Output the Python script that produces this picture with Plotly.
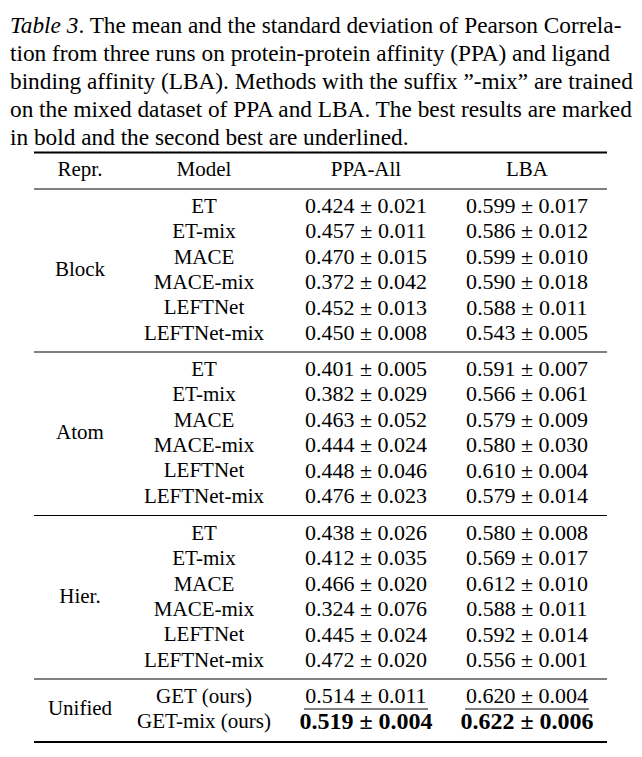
import plotly.graph_objects as go

# ---------------- data ----------------
caption_lines = [
    "<i>Table 3</i>. The mean and the standard deviation of Pearson Correla-",
    "tion from three runs on protein-protein affinity (PPA) and ligand",
    "binding affinity (LBA). Methods with the suffix \u201d-mix\u201d are trained",
    "on the mixed dataset of PPA and LBA. The best results are marked",
    "in bold and the second best are underlined.",
]
headers = ["Repr.", "Model", "PPA-All", "LBA"]
reprs = ["Block", "Atom", "Hier."]
models = ["ET", "ET-mix", "MACE", "MACE-mix", "LEFTNet", "LEFTNet-mix"]

block_ppa_mean = [0.424, 0.457, 0.470, 0.372, 0.452, 0.450]
block_ppa_std = [0.021, 0.011, 0.015, 0.042, 0.013, 0.008]
block_lba_mean = [0.599, 0.586, 0.599, 0.590, 0.588, 0.543]
block_lba_std = [0.017, 0.012, 0.010, 0.018, 0.011, 0.005]

atom_ppa_mean = [0.401, 0.382, 0.463, 0.444, 0.448, 0.476]
atom_ppa_std = [0.005, 0.029, 0.052, 0.024, 0.046, 0.023]
atom_lba_mean = [0.591, 0.566, 0.579, 0.580, 0.610, 0.579]
atom_lba_std = [0.007, 0.061, 0.009, 0.030, 0.004, 0.014]

hier_ppa_mean = [0.438, 0.412, 0.466, 0.324, 0.445, 0.472]
hier_ppa_std = [0.026, 0.035, 0.020, 0.076, 0.024, 0.020]
hier_lba_mean = [0.580, 0.569, 0.612, 0.588, 0.592, 0.556]
hier_lba_std = [0.008, 0.017, 0.010, 0.011, 0.014, 0.001]

unified_repr = "Unified"
unified_models = ["GET (ours)", "GET-mix (ours)"]
unified_ppa_mean = [0.514, 0.519]
unified_ppa_std = [0.011, 0.004]
unified_lba_mean = [0.620, 0.622]
unified_lba_std = [0.004, 0.006]

# ---------------- layout constants ----------------
W, H = 642, 757
FONT = "Liberation Serif, Times New Roman, serif"
X_REPR, X_MODEL, X_PPA, X_LBA = 80, 204, 366, 527
RULE_X0, RULE_X1 = 34, 607
CAP_X, CAP_Y0, CAP_DY = 8, 27, 28
HEADER_Y = 170
ROW_DY = 25.4
GROUP_STARTS = [207, 370, 534]
UNIFIED_START = 697
TOP_RULE, HEAD_RULE, BOTTOM_RULE = 152.5, 189, 742
GROUP_RULES = [352, 515.5, 679]
YOFF = 0.5   # text box center vs glyph center
CAP_YOFF = -2

groups = [
    (block_ppa_mean, block_ppa_std, block_lba_mean, block_lba_std),
    (atom_ppa_mean, atom_ppa_std, atom_lba_mean, atom_lba_std),
    (hier_ppa_mean, hier_ppa_std, hier_lba_mean, hier_lba_std),
]

all_ppa = [v for g in groups for v in g[0]] + unified_ppa_mean
all_lba = [v for g in groups for v in g[2]] + unified_lba_mean
ppa_sorted = sorted(set(all_ppa), reverse=True)
lba_sorted = sorted(set(all_lba), reverse=True)

fig = go.Figure()

xs, ys, texts, sizes, families = [], [], [], [], []
underlines = []


def add(x, y, t, size=21):
    xs.append(x)
    ys.append(y + YOFF)
    texts.append(t)
    sizes.append(size)
    families.append(FONT)


def num_cell(x, y, m, s, ranked):
    t = f"{m:.3f} \u00b1 {s:.3f}"
    if m == ranked[0]:
        add(x, y, f"<b>{t}</b>", 24)
    else:
        add(x, y, t, 22)
        if m == ranked[1]:
            underlines.append((x, y))


for h, x in zip(headers, [X_REPR, X_MODEL, X_PPA, X_LBA]):
    add(x, HEADER_Y, h)

for gi, (pm, ps, lm, ls) in enumerate(groups):
    y0 = GROUP_STARTS[gi]
    add(X_REPR, y0 + ROW_DY * (len(models) - 1) / 2, reprs[gi])
    for i, mdl in enumerate(models):
        y = y0 + ROW_DY * i
        add(X_MODEL, y, mdl)
        num_cell(X_PPA, y, pm[i], ps[i], ppa_sorted)
        num_cell(X_LBA, y, lm[i], ls[i], lba_sorted)

add(X_REPR, UNIFIED_START + ROW_DY * (len(unified_models) - 1) / 2, unified_repr)
for i, mdl in enumerate(unified_models):
    y = UNIFIED_START + ROW_DY * i
    add(X_MODEL, y, mdl)
    num_cell(X_PPA, y, unified_ppa_mean[i], unified_ppa_std[i], ppa_sorted)
    num_cell(X_LBA, y, unified_lba_mean[i], unified_lba_std[i], lba_sorted)

fig.add_trace(go.Scatter(
    x=xs, y=ys, text=texts, mode="text", textposition="middle center",
    textfont=dict(size=sizes, family=families, color="black"),
    hoverinfo="skip", showlegend=False, cliponaxis=False,
))

# caption
for k, line in enumerate(caption_lines):
    fig.add_annotation(
        x=CAP_X, y=CAP_Y0 + CAP_DY * k + CAP_YOFF, xref="x", yref="y", text=line,
        showarrow=False, xanchor="left", yanchor="middle", align="left",
        font=dict(size=23.3, family=FONT, color="black"),
    )

# rules
def rule(y, w):
    fig.add_shape(type="line", xref="x", yref="y", x0=RULE_X0, x1=RULE_X1,
                  y0=y, y1=y, line=dict(color="black", width=w))

rule(TOP_RULE, 2)
rule(HEAD_RULE, 1.1)
for y in GROUP_RULES:
    rule(y, 1.1)
rule(BOTTOM_RULE, 2)

# underlines for second best
for (x, y) in underlines:
    fig.add_shape(type="line", xref="x", yref="y", x0=x - 62, x1=x + 62,
                  y0=y + 12, y1=y + 12, line=dict(color="black", width=1))

fig.update_layout(
    width=W, height=H, margin=dict(l=0, r=0, t=0, b=0),
    paper_bgcolor="white", plot_bgcolor="white",
    xaxis=dict(range=[0, W], visible=False, fixedrange=True),
    yaxis=dict(range=[H, 0], visible=False, fixedrange=True),
)

fig.write_html("out.html", config={"displayModeBar": False},
               post_script="document.body.style.margin='0';")
